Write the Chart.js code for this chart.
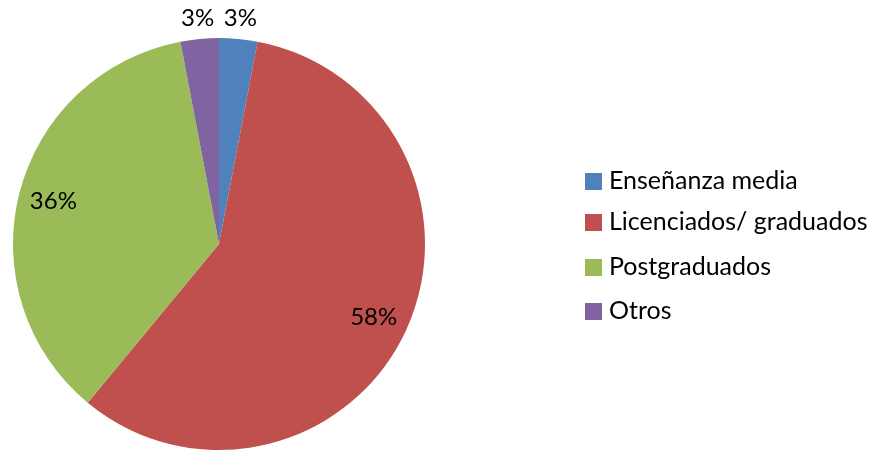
<!DOCTYPE html>
<html><head><meta charset="utf-8">
<script src="https://cdn.jsdelivr.net/npm/chart.js@4"></script>
<style>html,body{margin:0;padding:0;background:#fff}#w{width:887px;height:451px}</style>
</head><body><div id="w"><canvas id="c"></canvas></div>
<script>
const categories = ["Enseñanza media", "Licenciados/ graduados", "Postgraduados", "Otros"];
const values = [3, 58, 36, 3];
const colors = ["#4F81BD", "#C0504D", "#9BBB59", "#8064A2"];
const FONT = "Lato, 'Open Sans', sans-serif";

const labelPlugin = {
  id: 'lbl',
  afterDraw(chart) {
    const ctx = chart.ctx;
    const meta = chart.getDatasetMeta(0);
    const total = values.reduce((a, b) => a + b, 0);
    ctx.save();
    ctx.font = "24px " + FONT;
    ctx.fillStyle = "#000";
    ctx.textAlign = "center";
    ctx.textBaseline = "middle";
    meta.data.forEach((arc, i) => {
      const p = arc.getProps(['x', 'y', 'startAngle', 'endAngle', 'outerRadius'], true);
      const mid = (p.startAngle + p.endAngle) / 2;
      const pct = values[i] / total * 100;
      const r = pct < 8 ? p.outerRadius * 1.1 : p.outerRadius * 0.83;
      ctx.fillText(Math.round(pct) + "%", p.x + Math.cos(mid) * r, p.y + Math.sin(mid) * r);
    });
    // legend
    ctx.textAlign = "left";
    ctx.font = "25px " + FONT;
    const ys = [181, 222, 267, 311];
    categories.forEach((c, i) => {
      ctx.fillStyle = colors[i];
      ctx.fillRect(585, ys[i] - 8, 17, 17);
      ctx.fillStyle = "#000";
      ctx.fillText(c, 609, ys[i]);
    });
    ctx.restore();
  }
};

new Chart(document.getElementById('c'), {
  type: 'pie',
  data: { labels: categories, datasets: [{ data: values, backgroundColor: colors, borderWidth: 0 }] },
  options: {
    responsive: true, maintainAspectRatio: false, animation: false,
    layout: { padding: { left: 13, top: 38, right: 462, bottom: 1 } },
    plugins: { legend: { display: false }, tooltip: { enabled: false } }
  },
  plugins: [labelPlugin]
});
</script></body></html>
